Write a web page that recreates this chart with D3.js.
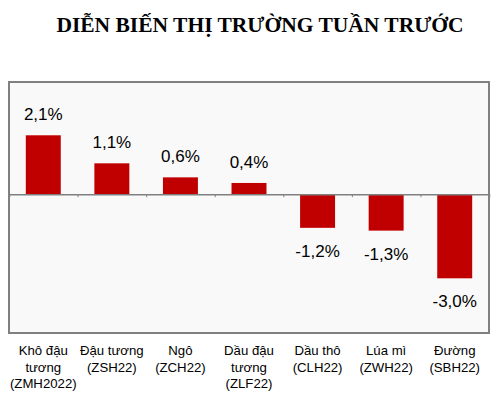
<!DOCTYPE html>
<html>
<head>
<meta charset="utf-8">
<script src="https://cdn.jsdelivr.net/npm/d3@7"></script>
<style>
  body { margin: 0; background: #fff; }
  svg { display: block; }
</style>
</head>
<body>
<div id="chart"></div>
<script>
// chart data
var categories = [
  ['Khô đậu', 'tương', '(ZMH2022)'],
  ['Đậu tương', '(ZSH22)'],
  ['Ngô', '(ZCH22)'],
  ['Dầu đậu', 'tương', '(ZLF22)'],
  ['Dầu thô', '(CLH22)'],
  ['Lúa mì', '(ZWH22)'],
  ['Đường', '(SBH22)']
];
var changes = [2.1, 1.1, 0.6, 0.4, -1.2, -1.3, -3.0];
var valueLabels = ['2,1%', '1,1%', '0,6%', '0,4%', '-1,2%', '-1,3%', '-3,0%'];
var title = 'DIỄN BIẾN THỊ TRƯỜNG TUẦN TRƯỚC';

var width = 500, height = 397;
var box = { left: 9, top: 82, right: 489, bottom: 333 };

var svg = d3.select('#chart').append('svg')
  .attr('width', width)
  .attr('height', height);

svg.append('text')
  .attr('x', 260)
  .attr('y', 32)
  .attr('text-anchor', 'middle')
  .style('font-family', '"Liberation Serif", "Times New Roman", serif')
  .style('font-weight', 'bold')
  .style('font-size', '21.5px')
  .attr('fill', '#000')
  .text(title);

var x = d3.scaleBand()
  .domain(d3.range(categories.length))
  .range([box.left, box.right])
  .paddingInner(0.49)
  .paddingOuter(0.245);

var y = d3.scaleLinear()
  .domain([-4.95, 4.0])
  .range([box.bottom, box.top]);

// plot area
svg.append('rect')
  .attr('x', box.left)
  .attr('y', box.top)
  .attr('width', box.right - box.left)
  .attr('height', box.bottom - box.top)
  .attr('fill', '#f9f9f9')
  .attr('stroke', '#808080')
  .attr('stroke-width', 2);

svg.selectAll('.bar')
  .data(changes)
  .enter().append('rect')
  .attr('class', 'bar')
  .attr('x', function(d, i){ return x(i); })
  .attr('y', function(d){ return y(Math.max(0, d)); })
  .attr('width', x.bandwidth())
  .attr('height', function(d){ return Math.abs(y(d) - y(0)); })
  .attr('fill', '#c00000');

// zero axis with ticks between categories
var axis = d3.axisBottom(d3.scaleLinear().domain([0, categories.length]).range([box.left, box.right]))
  .tickValues(d3.range(1, categories.length))
  .tickSize(3)
  .tickFormat('');

var ax = svg.append('g')
  .attr('transform', 'translate(0,' + y(0) + ')')
  .call(axis);
ax.select('.domain').attr('stroke', '#808080').attr('stroke-width', 1.5);
ax.selectAll('.tick line').attr('stroke', '#808080');

svg.selectAll('.val')
  .data(changes)
  .enter().append('text')
  .attr('class', 'val')
  .attr('x', function(d, i){ return x(i) + x.bandwidth() / 2; })
  .attr('y', function(d){ return d >= 0 ? y(d) - 15 : y(d) + 29; })
  .attr('text-anchor', 'middle')
  .style('font-family', '"Liberation Sans", Arial, sans-serif')
  .style('font-size', '17px')
  .attr('fill', '#000')
  .text(function(d, i){ return valueLabels[i]; });

var cats = svg.selectAll('.cat')
  .data(categories)
  .enter().append('text')
  .attr('class', 'cat')
  .attr('text-anchor', 'middle')
  .style('font-family', '"Liberation Sans", Arial, sans-serif')
  .style('font-size', '13.2px')
  .attr('fill', '#000');

cats.each(function(lines, i){
  d3.select(this).selectAll('tspan')
    .data(lines)
    .enter().append('tspan')
    .attr('x', x(i) + x.bandwidth() / 2)
    .attr('y', function(d, j){ return 355 + j * 16.5; })
    .text(function(d){ return d; });
});
</script>
</body>
</html>
